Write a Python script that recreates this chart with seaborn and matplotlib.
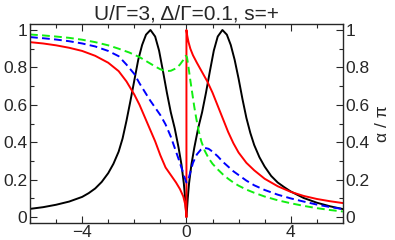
import numpy as np
import pandas as pd
import matplotlib
matplotlib.use("Agg")
import matplotlib.pyplot as plt
import seaborn as sns
from matplotlib.ticker import MultipleLocator

# values
black_x = [-6, -5.5, -5, -4.5, -4, -3.75, -3.5, -3.25, -3.0, -2.8, -2.6, -2.45, -2.3, -2.15, -2.0, -1.85,
           -1.7, -1.55, -1.38, -1.2, -1.05, -0.9, -0.75, -0.6, -0.45, -0.3, -0.19, -0.1, -0.05, 0,
           0.05, 0.1, 0.19, 0.3, 0.45, 0.6, 0.75, 0.9, 1.05, 1.2, 1.38, 1.55, 1.7, 1.85, 2.0, 2.15,
           2.3, 2.45, 2.6, 2.8, 3.0, 3.25, 3.5, 3.75, 4.0, 4.5, 5.0, 5.5, 6.0]
black_y = [0.044, 0.053, 0.066, 0.083, 0.108, 0.128, 0.153, 0.188, 0.235, 0.285, 0.35, 0.42, 0.515, 0.62, 0.73, 0.84,
           0.92, 0.975, 1.0, 0.965, 0.89, 0.78, 0.665, 0.56, 0.475, 0.37, 0.28, 0.18, 0.10, 0.0,
           0.10, 0.18, 0.28, 0.37, 0.475, 0.56, 0.665, 0.78, 0.89, 0.965, 1.0, 0.975, 0.92, 0.84, 0.74, 0.63,
           0.53, 0.45, 0.385, 0.32, 0.27, 0.22, 0.185, 0.16, 0.137, 0.102, 0.077, 0.058, 0.043]

red_x = [-6, -5.5, -5, -4.5, -4, -3.5, -3.0, -2.6, -2.3, -2.0, -1.8, -1.6, -1.4, -1.2, -1.0, -0.8, -0.6,
         -0.4, -0.25, -0.12, -0.05, -0.01, 0, 0, 0.03, 0.08, 0.15, 0.25, 0.4, 0.6, 0.8, 1.0, 1.2, 1.4, 1.6,
         1.8, 2.0, 2.3, 2.6, 3.0, 3.5, 4.0, 4.5, 5.0, 5.5, 6.0]
red_y = [0.935, 0.928, 0.918, 0.905, 0.888, 0.862, 0.825, 0.78, 0.725, 0.655, 0.6, 0.535, 0.47, 0.405, 0.33, 0.265, 0.225,
         0.185, 0.15, 0.11, 0.07, 0.02, 0.0, 1.0, 0.97, 0.935, 0.9, 0.865, 0.825, 0.775, 0.725, 0.665, 0.595, 0.525, 0.455,
         0.395, 0.345, 0.29, 0.25, 0.205, 0.165, 0.135, 0.113, 0.097, 0.085, 0.075]

blue_x = [-6, -5.5, -5, -4.5, -4, -3.5, -3.0, -2.6, -2.3, -2.0, -1.8, -1.6, -1.4, -1.2, -1.0, -0.8, -0.6,
          -0.45, -0.3, -0.18, -0.08, 0, 0.06, 0.15, 0.25, 0.4, 0.55, 0.7, 0.85, 1.0, 1.2, 1.4, 1.6, 1.8,
          2.0, 2.3, 2.6, 3.0, 3.5, 4.0, 4.5, 5.0, 5.5, 6.0]
blue_y = [0.962, 0.956, 0.949, 0.94, 0.928, 0.912, 0.888, 0.86, 0.815, 0.765, 0.715, 0.67, 0.625, 0.585, 0.545, 0.495, 0.43,
          0.37, 0.31, 0.26, 0.215, 0.185, 0.195, 0.24, 0.29, 0.335, 0.36, 0.37, 0.365, 0.35, 0.325, 0.295, 0.27, 0.245,
          0.225, 0.195, 0.17, 0.145, 0.12, 0.10, 0.083, 0.067, 0.054, 0.043]

green_x = [-6, -5.5, -5, -4.5, -4, -3.5, -3.0, -2.6, -2.2, -1.8, -1.5, -1.2, -1.0, -0.8, -0.6, -0.4, -0.25,
           -0.12, -0.03, 0.02, 0.08, 0.15, 0.22, 0.3, 0.38, 0.47, 0.57, 0.7, 0.85, 1.0, 1.2, 1.4, 1.6, 1.8,
           2.0, 2.3, 2.6, 3.0, 3.5, 4.0, 4.5, 5.0, 5.5, 6.0]
green_y = [0.976, 0.971, 0.965, 0.958, 0.948, 0.935, 0.918, 0.9, 0.88, 0.855, 0.83, 0.805, 0.79, 0.78, 0.782, 0.795, 0.815,
           0.84, 0.862, 0.855, 0.80, 0.73, 0.665, 0.59, 0.525, 0.46, 0.405, 0.355, 0.315, 0.285, 0.255, 0.228, 0.205, 0.185,
           0.168, 0.147, 0.13, 0.11, 0.09, 0.074, 0.06, 0.048, 0.038, 0.03]

sns.set_style("ticks")
plt.rcParams["font.family"] = ["Liberation Sans", "DejaVu Sans"]
plt.rcParams["font.size"] = 12.5

fig = plt.figure(figsize=(3.95, 2.4), dpi=100)
ax = fig.add_axes([0.076, 0.072, 0.792, 0.828])

sns.lineplot(x=black_x, y=black_y, ax=ax, color="black", lw=1.4, sort=False, estimator=None)
sns.lineplot(x=red_x, y=red_y, ax=ax, color="#ff0000", lw=1.4, sort=False, estimator=None)
sns.lineplot(x=blue_x, y=blue_y, ax=ax, color="#0000ff", lw=1.4, sort=False, estimator=None)
sns.lineplot(x=green_x, y=green_y, ax=ax, color="#11ee11", lw=1.4, sort=False, estimator=None)
ax.lines[2].set_dashes((4, 2.2))
ax.lines[3].set_dashes((4, 2.2))

ax.set_xlim(-6, 6)
ax.set_ylim(-0.03, 1.032)
ax.xaxis.set_major_locator(MultipleLocator(4))
ax.xaxis.set_minor_locator(MultipleLocator(1))
ax.yaxis.set_minor_locator(MultipleLocator(0.1))
ax.set_yticks([0, 0.2, 0.4, 0.6, 0.8, 1.0])
ax.set_yticklabels(["0", "0.2", "0.4", "0.6", "0.8", "1"])
ax.tick_params(which="both", direction="in", top=True, right=True, labelright=True, width=0.8, pad=2)
ax.tick_params(which="major", length=5)
ax.tick_params(which="minor", length=3)
for s in ax.spines.values():
    s.set_linewidth(1.0)

ax.yaxis.set_label_position("right")
ax.set_ylabel("α / π", labelpad=4)
ax.set_title("U/Γ=3, Δ/Γ=0.1, s=+", pad=3)

fig.savefig("out.png", dpi=100)
